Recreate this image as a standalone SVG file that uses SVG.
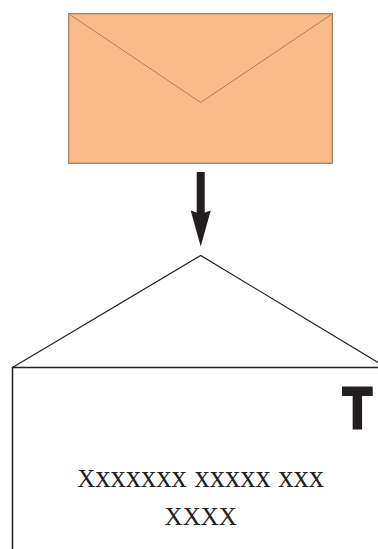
<svg xmlns="http://www.w3.org/2000/svg" width="378" height="549" viewBox="0 0 378 549">
<style>
.flap{fill:none;stroke:#a98062;stroke-width:1}
.line{fill:none;stroke:#231f20;stroke-width:1.2}
.wall{fill:none;stroke:#231f20;stroke-width:1.5}
.txt{font-family:"Liberation Serif","Times New Roman",serif;font-size:25px;fill:#231f20;text-anchor:middle}
.low{font-size:30.500px}
.t{font-family:"Liberation Sans",Arial,sans-serif;font-weight:bold;font-size:57px;fill:#231f20;stroke:#231f20;stroke-width:3px;text-anchor:middle}
</style>
<rect width="378" height="549" fill="#fff"/>
<g id="envelope">
<rect x="68.700" y="13.700" width="263.600" height="149.600" fill="#fbbb8b" stroke="#b08560" stroke-width="1.400"/>
<path class="flap" d="M69 14L200.700 102.500L332 14"/>
</g>
<g id="connectors">
<rect x="196.700" y="172" width="8" height="42" fill="#231f20"/>
<path d="M190.700 210.500L200.700 214L210.700 210.500L200.700 246.500Z" fill="#231f20"/>
</g>
<g id="document">
<path class="wall" d="M12.500 549V367.500H378"/>
<path class="line" d="M12.500 367.500L200.700 255.500L378 362.500"/>
<text class="t" transform="translate(357.300 427.500) scale(.84 1)">T</text>
<text class="txt" x="200.700" y="487">X<tspan class="low">xxxxxx xxxxx xxx</tspan></text>
<text class="txt" x="200.700" y="525">XXXX</text>
</g>
</svg>
